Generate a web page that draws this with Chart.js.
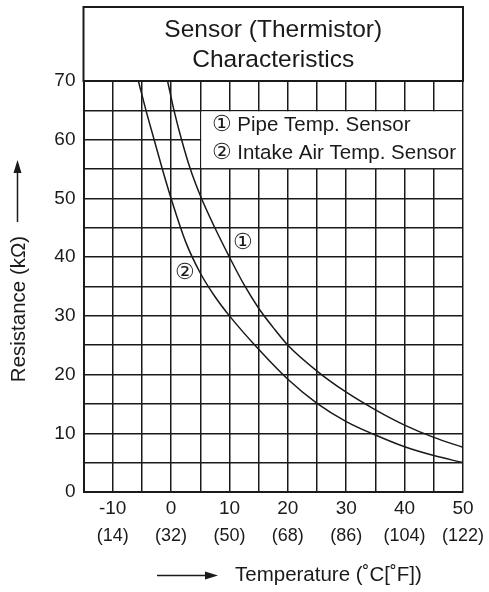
<!DOCTYPE html>
<html>
<head>
<meta charset="utf-8">
<script src="https://cdn.jsdelivr.net/npm/chart.js@4.4.1/dist/chart.umd.min.js"></script>
<style>
  html, body { margin: 0; padding: 0; background: #fff; }
</style>
</head>
<body>
<canvas id="chart" width="489" height="592"></canvas>
<script>
const TITLE = ['Sensor (Thermistor)', 'Characteristics'];
const SERIES = ['Pipe Temp. Sensor', 'Intake Air Temp. Sensor'];
const MARKS = ['\u2460', '\u2461'];

// temperature (C) / resistance (kOhm)
const PIPE_T = [-0.6, 0.5, 1.8, 3.3, 5, 7.5, 10, 12.5, 15, 17.5, 20, 25, 30, 35, 40, 45, 50];
const PIPE_R = [70, 65, 60, 55, 50.5, 45, 40, 35.3, 31.3, 28, 25, 20.6, 17.0, 14.0, 11.4, 9.3, 7.6];
const AIR_T = [-5.6, -4.3, -2.9, -1.5, 0, 2.5, 5, 7.5, 10, 15, 20, 25, 30, 35, 40, 45, 50];
const AIR_R = [70, 65, 60, 55, 50, 42.6, 37.3, 33.3, 30, 24.3, 19.2, 15.1, 12.0, 9.7, 7.7, 6.2, 5.0];
const MARK_AT = [{x: 12.4, y: 42.5}, {x: 2.4, y: 37.3}];

const C_TICKS = [-10, 0, 10, 20, 30, 40, 50];
const F_TICKS = ['(14)', '(32)', '(50)', '(68)', '(86)', '(104)', '(122)'];
const Y_TICKS = [0, 10, 20, 30, 40, 50, 60, 70];
const X_TITLE = 'Temperature (\u02DAC[\u02DAF])';
const Y_TITLE = 'Resistance (k\u03A9)';

const FONT = "'Liberation Sans', Arial, sans-serif";
const INK = '#1a1a1a';

const pts = (xs, ys) => xs.map((t, i) => ({x: t, y: ys[i]}));

const decor = {
  id: 'decor',
  beforeDatasetsDraw(chart) {
    const {ctx, scales: {x, y}} = chart;
    const l = x.getPixelForValue(5), r = x.getPixelForValue(50);
    const t = y.getPixelForValue(65), b = y.getPixelForValue(55);
    ctx.save();
    ctx.fillStyle = '#fff';
    ctx.fillRect(l + 1, t + 1, r - l - 2, b - t - 2);
    ctx.fillStyle = INK;
    ctx.textBaseline = 'middle';
    SERIES.forEach((s, i) => {
      const ly = t + (b - t) * (i ? 0.73 : 0.25);
      ctx.font = `22px ${FONT}`;
      ctx.textAlign = 'center';
      ctx.fillText(MARKS[i], l + 22, ly);
      ctx.font = `20.5px ${FONT}`;
      ctx.textAlign = 'left';
      ctx.fillText(s, l + 37, ly);
    });
    ctx.restore();
  },
  afterDraw(chart) {
    const {ctx, chartArea: a, scales: {x, y}} = chart;
    ctx.save();
    ctx.strokeStyle = INK;
    ctx.fillStyle = INK;
    ctx.lineWidth = 2;
    ctx.strokeRect(a.left, 7, a.right - a.left, a.top - 7);

    ctx.font = `22px ${FONT}`;
    ctx.textAlign = 'center';
    ctx.textBaseline = 'middle';
    MARK_AT.forEach((p, i) => ctx.fillText(MARKS[i], x.getPixelForValue(p.x), y.getPixelForValue(p.y)));

    // axis titles + arrows
    ctx.font = `20.5px ${FONT}`;
    ctx.textAlign = 'left';
    ctx.fillText(X_TITLE, 235, 575);
    ctx.lineWidth = 1.5;
    ctx.beginPath(); ctx.moveTo(157, 575.5); ctx.lineTo(206, 575.5); ctx.stroke();
    ctx.beginPath(); ctx.moveTo(218, 575.5); ctx.lineTo(205, 571.5); ctx.lineTo(205, 579.5); ctx.closePath(); ctx.fill();

    ctx.beginPath(); ctx.moveTo(17.5, 222); ctx.lineTo(17.5, 172); ctx.stroke();
    ctx.beginPath(); ctx.moveTo(17.5, 160); ctx.lineTo(13.5, 173); ctx.lineTo(21.5, 173); ctx.closePath(); ctx.fill();

    ctx.translate(19.5, 309);
    ctx.rotate(-Math.PI / 2);
    ctx.textAlign = 'center';
    ctx.fillText(Y_TITLE, 0, 0);
    ctx.restore();
  }
};

const tickFont = size => ({size: size, family: FONT});
const gridOpts = {color: INK, lineWidth: 1.5, drawTicks: false};

new Chart(document.getElementById('chart'), {
  type: 'line',
  data: {
    datasets: [
      {label: SERIES[0], data: pts(PIPE_T, PIPE_R)},
      {label: SERIES[1], data: pts(AIR_T, AIR_R)},
    ].map(d => Object.assign(d, {borderColor: INK, borderWidth: 1.5, pointRadius: 0, fill: false, cubicInterpolationMode: 'monotone'}))
  },
  options: {
    responsive: false,
    animation: false,
    layout: {padding: {left: 23.5, right: 23.5, top: 7, bottom: 45}},
    plugins: {
      legend: {display: false},
      tooltip: {enabled: false},
      title: {
        display: true, text: TITLE, fullSize: false, color: INK,
        font: {size: 24.5, family: FONT, weight: 'normal', lineHeight: 1.2245},
        padding: {top: 8.5, bottom: 5.5}
      }
    },
    scales: {
      x: {
        type: 'linear', min: -15, max: 50, weight: 0,
        afterFit(s) { s.height = 28; },
        border: {color: INK, width: 2},
        grid: gridOpts,
        ticks: {stepSize: 5, autoSkip: false, maxRotation: 0, padding: 5, color: INK, font: tickFont(19),
          callback: v => { const i = C_TICKS.indexOf(v); return i < 0 ? '' : String(C_TICKS[i]); }}
      },
      x2: {
        type: 'linear', position: 'bottom', min: -15, max: 50, weight: 1,
        afterFit(s) { s.height = 27; },
        border: {display: false},
        grid: {display: false, drawTicks: false},
        ticks: {stepSize: 5, autoSkip: false, maxRotation: 0, padding: 5, color: INK, font: tickFont(18),
          callback: v => { const i = C_TICKS.indexOf(v); return i < 0 ? '' : F_TICKS[i]; }}
      },
      y: {
        min: 0, max: 70,
        afterFit(s) { s.width = 60; },
        border: {color: INK, width: 2},
        grid: gridOpts,
        ticks: {stepSize: 5, autoSkip: false, padding: 8, color: INK, font: tickFont(19),
          callback: v => Y_TICKS.includes(v) ? String(v) : ''}
      }
    }
  },
  plugins: [decor]
});
</script>
</body>
</html>
